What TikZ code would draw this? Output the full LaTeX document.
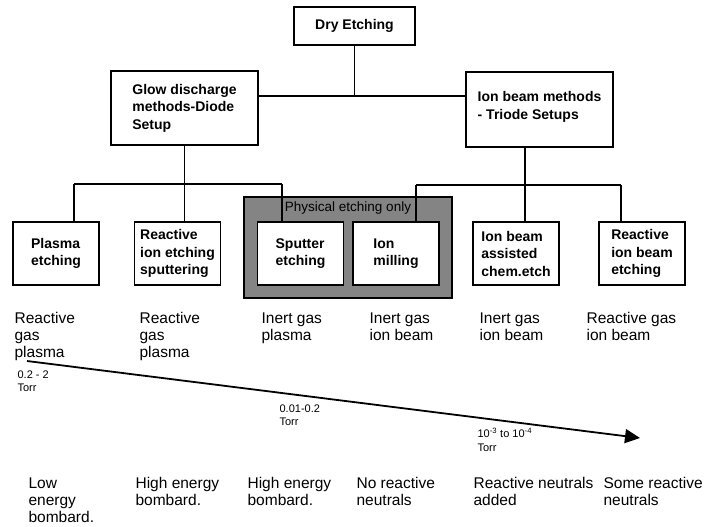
\documentclass[tikz,border=0pt]{standalone}
\usepackage{fontspec}
\setmainfont{Liberation Sans}
\usetikzlibrary{arrows.meta}
\definecolor{physgray}{RGB}{132,132,132}
\tikzset{
	etchbox/.style={draw,line width=1.3pt,fill=white,inner sep=0pt,align=left,
		font=\fontsize{14}{17.5}\selectfont\bfseries},
	lowbox/.style={etchbox,minimum width=86pt,minimum height=63pt},
	gasnote/.style={anchor=north west,inner sep=0pt,align=left,
		font=\fontsize{15.5}{17}\selectfont},
	torrnote/.style={anchor=north west,inner sep=0pt,align=left,
		font=\fontsize{11}{13.5}\selectfont},
}
\begin{document}
\begin{tikzpicture}[x=1pt,y=-1pt,line width=1.2pt]
					\useasboundingbox (0,0) rectangle (704,527); % same size as the scan
					
					% shaded group behind the two physical methods
					\node (Phys) at (348,247.5) [draw,fill=physgray,line width=1.3pt,minimum width=208pt,minimum height=101pt] {};
					\node (PhysLabel) at (348,208) [font=\fontsize{13.5}{15}\selectfont,inner sep=0pt] {Physical etching only};
					
					\coordinate (Topjoin) at (354.5,96);
					\coordinate (Gleft) at (74,184);
					\coordinate (Gright) at (282,184);
					\coordinate (Ileft) at (416,185);
					\coordinate (Iright) at (621,185);
					\coordinate (Idrop) at (525,185);
					
					\node (Dry) at (354.5,26) [etchbox,minimum width=121pt,minimum height=38pt] {Dry Etching};
					\node (Glow) at (184.5,108) [etchbox,minimum width=147pt,minimum height=74pt] {Glow discharge\\methods-Diode\\Setup};
					\node (Ibeam) at (539.5,109.5) [etchbox,minimum width=147pt,minimum height=75pt] {Ion beam methods\\- Triode Setups\\[-9.5pt]};
					
					\node (Plasma) at (56,253.5) [lowbox] {Plasma\\etching};
					\node (Rie) at (177.5,253.5) [lowbox] {Reactive\\ion etching\\sputtering};
					\node (Sputter) at (300.5,253.5) [lowbox] {Sputter\\etching};
					\node (Mill) at (396,253.5) [lowbox] {Ion\\milling};
					\node (Ibac) at (516,253.5) [lowbox] {Ion beam\\assisted\\chem.etch};
					\node (Ribe) at (642,253.5) [lowbox] {Reactive\\ion beam\\etching};
					
					% the tree
					\draw (Dry) -- (Topjoin);
					\draw (Glow.east |- Topjoin) -- (Ibeam.west |- Topjoin);
					\draw (Glow.south) -- (Glow.south |- Rie.north);
					\draw (Gleft) -- (Gright);
					\draw (Gleft) -- (Gleft |- Plasma.north);
					\draw (Gright) -- (Gright |- Sputter.north);
					\draw (Ibeam.south -| Idrop) -- (Idrop |- Ibac.north);
					\draw (Ileft) -- (Iright);
					\draw (Ileft) -- (Ileft |- Mill.north);
					\draw (Iright) -- (Iright |- Ribe.north);
					
					% gas used by each method
					\foreach \x/\txt [count=\i] in {14/{Reactive\\gas\\plasma},139/{Reactive\\gas\\plasma},
						261/{Inert gas\\plasma},369/{Inert gas\\ion beam},
						479/{Inert gas\\ion beam},586/{Reactive gas\\ion beam}}{%
						\node (Gas\i) at (\x,312) [gasnote] {\txt};
					}
					
					% pressure falls from left to right
					\coordinate (Phigh) at (27,361);
					\coordinate (Plow) at (640,438);
					\draw [line width=1.8pt,-{Triangle[length=15pt,width=14pt]}] (Phigh) -- (Plow);
					\node (TorrA) at (17,370) [torrnote] {0.2 - 2\\Torr};
					\node (TorrB) at (279,404) [torrnote] {0.01-0.2\\Torr};
					\node (TorrC) at (477,428) [torrnote] {10\textsuperscript{-3} to 10\textsuperscript{-4}\\Torr};
					
					% what hits the surface
					\foreach \x/\txt [count=\i] in {28/{Low\\energy\\bombard.},135/{High energy\\bombard.},
						247/{High energy\\bombard.},356/{No reactive\\neutrals},
						473/{Reactive neutrals\\added},603/{Some reactive\\neutrals}}{%
						\node (Hit\i) at (\x,477) [gasnote] {\txt};
					}
					
		\end{tikzpicture}
\end{document}
